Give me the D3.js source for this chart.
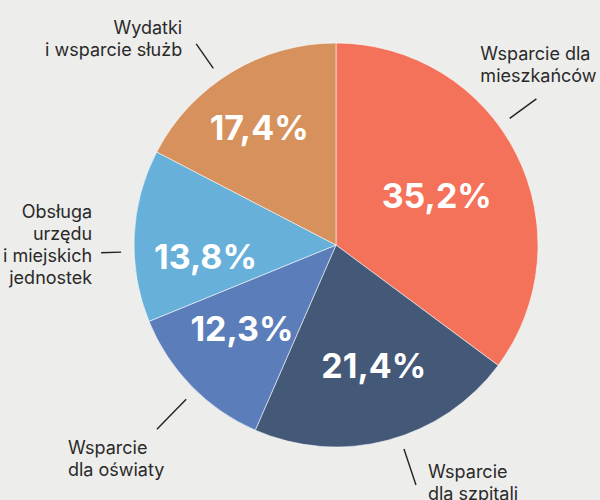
<!DOCTYPE html>
<html>
<head>
<meta charset="utf-8">
<script src="https://cdn.jsdelivr.net/npm/d3@7"></script>
<style>
  html, body { margin: 0; padding: 0; background: #ededeb; }
  svg { display: block; }
</style>
</head>
<body>
<div id="chart"></div>
<script>
(function() {
    const width = 600;
    const height = 500;

    // Data
    const categories = [
        "Wsparcie dla mieszkańców",
        "Wsparcie dla szpitali",
        "Wsparcie dla oświaty",
        "Obsługa urzędu i miejskich jednostek",
        "Wydatki i wsparcie służb"
    ];
    const values = [35.2, 21.4, 12.3, 13.8, 17.4];
    const labelLines = [
        ["Wsparcie dla", "mieszkańców"],
        ["Wsparcie", "dla szpitali"],
        ["Wsparcie", "dla oświaty"],
        ["Obsługa", "urzędu", "i miejskich", "jednostek"],
        ["Wydatki", "i wsparcie służb"]
    ];
    const colors = ["#f4715a", "#445978", "#5b7dba", "#67b0da", "#d6915d"];

    // Annotation layout: leader angle nudge (deg), leader length, text offset from leader end,
    // and percentage label radius / angle nudge
    const annot = [
        {nudge: -9.4, len: 33, anchor: "start", dx: -56, dy: -39, pr: 112, pn: 0.8},
        {nudge: -3.5, len: 38, anchor: "start", dx: 12, dy: -7, pr: 127, pn: -2.4},
        {nudge: -1.5, len: 42, anchor: "start", dx: -89, dy: 25, pr: 126, pn: 2.6},
        {nudge: -4.5, len: 20, anchor: "end", dx: -9, dy: -35, pr: 131, pn: -7.6},
        {nudge: -3.5, len: 30, anchor: "end", dx: -14, dy: -10, pr: 140, pn: -2}
    ];

    const cx = 336, cy = 245, radius = 202;
    const rad = Math.PI / 180;
    const font = "Inter, Roboto, 'Liberation Sans', sans-serif";

    const svg = d3.select("#chart")
        .append("svg")
        .attr("width", width)
        .attr("height", height);

    svg.append("rect")
        .attr("width", width)
        .attr("height", height)
        .attr("fill", "#ededeb");

    const g = svg.append("g")
        .attr("transform", `translate(${cx},${cy})`);

    const data = categories.map((c, i) => ({name: c, value: values[i], i: i}));

    const pie = d3.pie()
        .sort(null)
        .value(d => d.value);

    const arcs = pie(data);

    const arc = d3.arc()
        .innerRadius(0)
        .outerRadius(radius);

    g.selectAll("path.slice")
        .data(arcs)
        .enter()
        .append("path")
        .attr("class", "slice")
        .attr("d", arc)
        .attr("fill", d => colors[d.data.i])
        .attr("stroke", "rgba(255,255,255,0.55)")
        .attr("stroke-width", 1);

    // Percentage labels
    const polar = (ang, r) => [r * Math.sin(ang), -r * Math.cos(ang)];

    g.selectAll("text.pct")
        .data(arcs)
        .enter()
        .append("text")
        .attr("class", "pct")
        .attr("transform", d => {
            const a = annot[d.data.i];
            const ang = (d.startAngle + d.endAngle) / 2 + a.pn * rad;
            return `translate(${polar(ang, a.pr)})`;
        })
        .attr("text-anchor", "middle")
        .attr("dy", "0.36em")
        .style("fill", "#ffffff")
        .style("font-family", font)
        .style("font-weight", "700")
        .style("font-size", "34px")
        .text(d => d3.format(".1f")(d.data.value).replace(".", ",") + "%");

    // Leader lines and outer labels
    const r0 = 215;
    arcs.forEach(d => {
        const a = annot[d.data.i];
        const ang = (d.startAngle + d.endAngle) / 2 + a.nudge * rad;
        const [x1, y1] = polar(ang, r0);
        const [x2, y2] = polar(ang, r0 + a.len);

        g.append("line")
            .attr("x1", x1).attr("y1", y1)
            .attr("x2", x2).attr("y2", y2)
            .attr("stroke", "#222")
            .attr("stroke-width", 1.4);

        const t = g.append("text")
            .attr("x", x2 + a.dx)
            .attr("y", y2 + a.dy)
            .attr("text-anchor", a.anchor)
            .style("fill", "#2a2a2a")
            .style("font-family", font)
            .style("font-size", "18px");

        labelLines[d.data.i].forEach((line, k) => {
            t.append("tspan")
                .attr("x", x2 + a.dx)
                .attr("dy", k === 0 ? 0 : 22)
                .text(line);
        });
    });
})();
</script>
</body>
</html>
